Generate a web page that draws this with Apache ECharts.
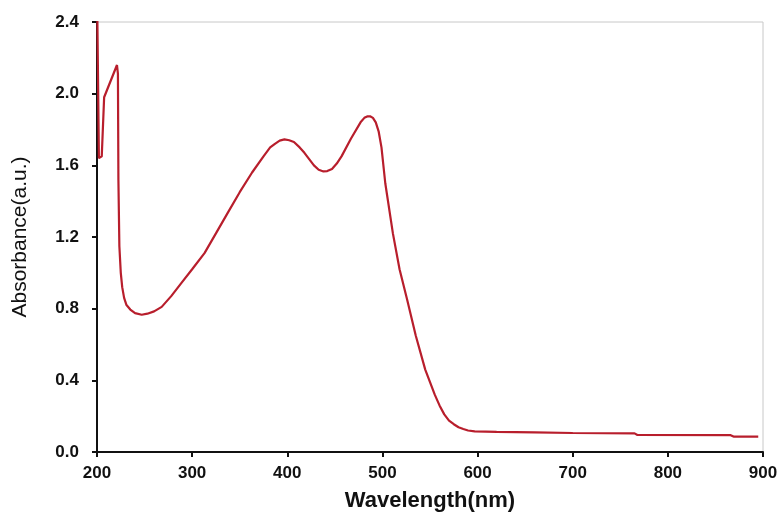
<!DOCTYPE html>
<html>
<head>
<meta charset="utf-8">
<script src="https://cdn.jsdelivr.net/npm/echarts@6/dist/echarts.min.js"></script>
<style>
  html, body { margin: 0; padding: 0; background: #fff; }
  #chart { width: 784px; height: 512px; }
</style>
</head>
<body>
<div id="chart"></div>
<script>
// 吸收光谱数据
const wavelength = [
  200, 202, 205, 207.5, 221, 222, 222.5, 223.5, 225, 226.5, 228.5, 231, 235, 240, 247, 253,
  260, 268, 278, 289, 300, 313, 325, 338, 350, 363, 375, 382, 387, 392, 397, 402,
  407, 413, 418, 423, 428, 433, 438, 442, 447, 452, 457, 467, 477, 481, 484, 487,
  490, 493, 496, 499, 503, 511, 518, 526, 535, 545, 555, 560, 565, 570, 575, 580,
  585, 590, 597, 620, 660, 700, 765, 768, 866, 869, 895
];
const absorbance = [
  2.60, 1.64, 1.65, 1.98, 2.16, 2.11, 1.52, 1.15, 1.00, 0.92, 0.86, 0.82, 0.795, 0.775, 0.766, 0.772,
  0.785, 0.81, 0.87, 0.945, 1.02, 1.11, 1.22, 1.34, 1.45, 1.56, 1.65, 1.70, 1.72, 1.738, 1.745, 1.74,
  1.73, 1.70, 1.67, 1.635, 1.60, 1.575, 1.566, 1.568, 1.58, 1.61, 1.65, 1.75, 1.84, 1.865, 1.873, 1.874,
  1.865, 1.84, 1.79, 1.70, 1.50, 1.22, 1.02, 0.85, 0.65, 0.46, 0.32, 0.26, 0.21, 0.175, 0.155, 0.138,
  0.128, 0.12, 0.115, 0.112, 0.11, 0.106, 0.104, 0.095, 0.094, 0.086, 0.086
];
const xTicks = { min: 200, max: 900, interval: 100 };
const yTicks = { min: 0, max: 2.4, interval: 0.4 };

const chartElement = document.getElementById('chart');
const chartInstance = echarts.init(chartElement);

const labelFont = {
  fontFamily: 'Liberation Sans',
  fontWeight: 'bold',
  fontSize: 17,
  color: '#111'
};

const option = {
  animation: false,
  grid: {
    left: 97,
    right: 21,
    top: 22,
    bottom: 60,
    outerBoundsMode: 'none',
    show: true,
    borderColor: '#c8c8c8',
    borderWidth: 1
  },
  xAxis: {
    type: 'value',
    min: xTicks.min,
    max: xTicks.max,
    interval: xTicks.interval,
    name: 'Wavelength(nm)',
    nameLocation: 'middle',
    nameGap: 38,
    nameTextStyle: {
      fontFamily: 'Liberation Sans',
      fontWeight: 'bold',
      fontSize: 22,
      color: '#111'
    },
    axisLine: { show: true, onZero: false, lineStyle: { color: '#111', width: 2 } },
    axisTick: { show: true, length: 5, lineStyle: { color: '#111', width: 2 } },
    axisLabel: Object.assign({ margin: 13 }, labelFont),
    splitLine: { show: false }
  },
  yAxis: {
    type: 'value',
    min: yTicks.min,
    max: yTicks.max,
    interval: yTicks.interval,
    name: 'Absorbance(a.u.)',
    nameLocation: 'middle',
    nameGap: 66,
    nameTextStyle: {
      fontFamily: 'Liberation Sans',
      fontSize: 21,
      color: '#111'
    },
    axisLine: { show: true, lineStyle: { color: '#111', width: 2 } },
    axisTick: { show: true, length: 5, lineStyle: { color: '#111', width: 2 } },
    axisLabel: Object.assign({ margin: 18, formatter: v => v.toFixed(1) }, labelFont),
    splitLine: { show: false }
  },
  series: [
    {
      type: 'line',
      data: wavelength.map((w, i) => [w, absorbance[i]]),
      showSymbol: false,
      clip: true,
      lineStyle: { color: '#b81e2c', width: 2.2 }
    }
  ]
};

chartInstance.setOption(option);
</script>
</body>
</html>
